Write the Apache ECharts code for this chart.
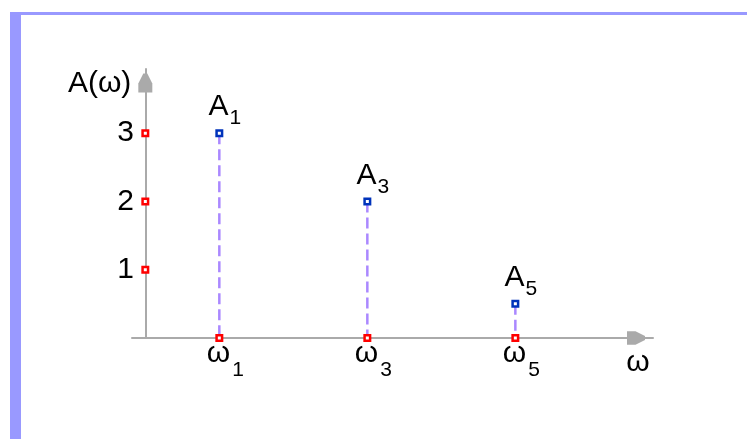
<!DOCTYPE html>
<html>
<head>
<meta charset="utf-8">
<script src="https://cdn.jsdelivr.net/npm/echarts@6/dist/echarts.min.js"></script>
<style>
  html, body { margin: 0; padding: 0; background: #fff; }
  #frame {
    position: absolute; left: 10px; top: 12px; right: 0; bottom: 0;
    border-top: 3px solid #9999ff; border-left: 11px solid #9999ff;
  }
  #chart { position: absolute; left: 0; top: 0; width: 747px; height: 439px; }
</style>
</head>
<body>
<div id="frame"></div>
<div id="chart"></div>
<script>
// spectrum lines: harmonic index n -> amplitude A_n
const harmonics = [1, 3, 5];
const amplitudes = [3, 2, 0.5];
const xTicks = [1, 3, 5];
const yTicks = [1, 2, 3];

const FONT = "Liberation Sans";
const AXIS_GRAY = "#aaaaaa";
const arrowPath = "path://M5,0 L9,0 L14,10 L14,19 L0,19 L0,10 Z";

const chart = echarts.init(document.getElementById("chart"));

const stemData = harmonics.map((n, i) => [n, amplitudes[i]]);
const baseMarks = xTicks.map((x) => [x, 0]).concat(yTicks.map((y) => [0, y]));

const option = {
  animation: false,
  grid: { left: 132, right: 94, top: 69, bottom: 101 },
  xAxis: {
    type: "value",
    min: -0.18,
    max: 6.86,
    splitLine: { show: false },
    axisTick: { show: false },
    axisLine: {
      lineStyle: { color: AXIS_GRAY, width: 2 },
      symbol: ["none", arrowPath],
      symbolSize: [14, 18],
      symbolOffset: [0, -17],
    },
    axisLabel: {
      customValues: xTicks,
      margin: 1,
      formatter: (v) => "{w|ω}{s|" + v + "}",
      rich: {
        w: { fontFamily: FONT, fontSize: 30, height: 30, lineHeight: 42, color: "#000",
             verticalAlign: "top", padding: [0, 0, 0, 12] },
        s: { fontFamily: FONT, fontSize: 21, height: 21, lineHeight: 21, color: "#000",
             verticalAlign: "bottom", padding: [0, 0, 0, 2] },
      },
    },
    name: "ω",
    nameLocation: "end",
    nameGap: -15,
    nameTextStyle: {
      fontFamily: FONT, fontSize: 30, lineHeight: 30, color: "#000",
      align: "center", verticalAlign: "top", padding: [10, 0, 0, 0],
    },
  },
  yAxis: {
    type: "value",
    min: 0,
    max: 3.94,
    splitLine: { show: false },
    axisTick: { show: false },
    axisLine: {
      onZero: true,
      lineStyle: { color: AXIS_GRAY, width: 2 },
      symbol: ["none", arrowPath],
      symbolSize: [14, 19],
      symbolOffset: [0, -14],
    },
    axisLabel: {
      customValues: yTicks,
      margin: -2,
      fontFamily: FONT,
      fontSize: 30,
      color: "#000",
    },
    name: "A(ω)",
    nameLocation: "end",
    nameGap: -15,
    nameTextStyle: {
      fontFamily: FONT, fontSize: 30, lineHeight: 30, color: "#000",
      align: "right", verticalAlign: "middle", padding: [0, 14, 0, 0],
    },
  },
  series: [
    {
      // dashed stems
      type: "custom",
      data: stemData,
      renderItem: (params, api) => {
        const top = api.coord([api.value(0), api.value(1)]);
        const base = api.coord([api.value(0), 0]);
        return {
          type: "line",
          shape: { x1: top[0], y1: top[1], x2: base[0], y2: base[1] },
          style: { stroke: "#aa88ff", lineWidth: 2.5, lineDash: [11, 5] },
        };
      },
    },
    {
      // red tick markers on both axes
      type: "scatter",
      data: baseMarks,
      symbol: "rect",
      symbolSize: 5.5,
      itemStyle: { color: "#fff", borderColor: "#ff0000", borderWidth: 2.5, opacity: 1 },
    },
    {
      // amplitude tops with A_n labels
      type: "scatter",
      data: stemData,
      symbol: "rect",
      symbolSize: 5.5,
      itemStyle: { color: "#fff", borderColor: "#0033bb", borderWidth: 2.5, opacity: 1 },
      label: {
        show: true,
        position: "top",
        distance: 0,
        formatter: (p) => "{a|A}{s|" + p.value[0] + "}",
        rich: {
          a: { fontFamily: FONT, fontSize: 30, height: 30, lineHeight: 37, color: "#000",
               verticalAlign: "top", padding: [0, 0, 0, 11] },
          s: { fontFamily: FONT, fontSize: 21, height: 21, lineHeight: 21, color: "#000",
               verticalAlign: "bottom", padding: [0, 0, 0, 1] },
        },
      },
    },
  ],
};

chart.setOption(option);
</script>
</body>
</html>
